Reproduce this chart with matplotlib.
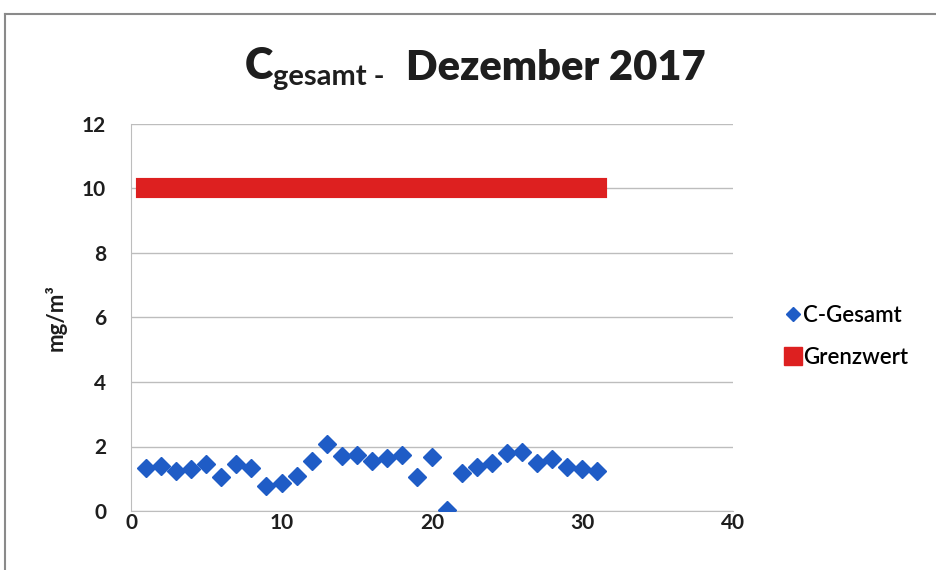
import matplotlib.pyplot as plt
from matplotlib.lines import Line2D

# -------------------------------
# Data
# -------------------------------
days = list(range(1, 32))
c_gesamt = [1.32, 1.40, 1.25, 1.29, 1.46, 1.06, 1.46, 1.32, 0.78, 0.88,
            1.08, 1.56, 2.08, 1.71, 1.74, 1.56, 1.63, 1.74, 1.04, 1.66,
            0.02, 1.17, 1.35, 1.48, 1.81, 1.84, 1.50, 1.60, 1.37, 1.29,
            1.25]
grenzwert = [10] * 31

x_ticks = [0, 10, 20, 30, 40]
y_ticks = [0, 2, 4, 6, 8, 10, 12]

blue = "#1F5CC6"
red = "#DD2020"
grid_grey = "#BDBDBD"
text_col = "#1E1E1E"

plt.rcParams["font.family"] = ["Lato", "DejaVu Sans"]

fig = plt.figure(figsize=(9.36, 5.70), dpi=100)
ax = fig.add_axes([0.140, 0.1035, 0.643, 0.679])

# threshold line (thick bar) and measured values
ax.plot(days, grenzwert, color=red, linewidth=14.5,
        solid_capstyle="projecting", label="Grenzwert", zorder=2)
ax.plot(days, c_gesamt, linestyle="none", marker="D", markersize=9,
        color=blue, markeredgecolor=blue, label="C-Gesamt", zorder=3)

ax.set_xlim(0, 40)
ax.set_ylim(0, 12)
ax.set_xticks(x_ticks)
ax.set_yticks(y_ticks)
ax.tick_params(length=0, labelsize=15)
ax.tick_params(axis="x", pad=1.5)
ax.tick_params(axis="y", pad=18)
for lab in ax.get_xticklabels() + ax.get_yticklabels():
    lab.set_fontweight("bold")
    lab.set_color(text_col)

ax.yaxis.grid(True, color=grid_grey, linewidth=1)
ax.set_axisbelow(True)
for side in ["top", "right"]:
    ax.spines[side].set_visible(False)
for side in ["left", "bottom"]:
    ax.spines[side].set_color(grid_grey)

ax.set_ylabel("mg/m³", fontsize=16, fontweight="bold", labelpad=11,
              color=text_col)

# legend with square for the threshold
handles = [
    Line2D([], [], linestyle="none", marker="D", markersize=7, color=blue),
    Line2D([], [], linestyle="none", marker="s", markersize=13, color=red),
]
fig.legend(handles, ["C-Gesamt", "Grenzwert"], loc="center left",
           bbox_to_anchor=(0.816, 0.41), frameon=False,
           prop={"size": 16, "weight": "semibold"},
           handletextpad=0.05, labelspacing=0.95, handlelength=0.8)

# title: C with subscript, then month
t1 = fig.text(0.262, 0.862, "C", fontsize=31, fontweight="heavy",
              color=text_col, va="baseline")
t2 = ax.annotate("gesamt -", xy=(1, 0), xycoords=t1, xytext=(0, -3),
                 textcoords="offset points", fontsize=21, fontweight="bold",
                 color=text_col, va="bottom")
ax.annotate("Dezember 2017", xy=(1, 0), xycoords=t2, xytext=(15, 2),
            textcoords="offset points", fontsize=30, fontweight="heavy",
            color=text_col, va="bottom")

# outer chart frame (top and left edges visible)
fig.add_artist(Line2D([0.005, 1.0], [0.975, 0.975], color="#8A8A8A",
                      linewidth=1.5, transform=fig.transFigure))
fig.add_artist(Line2D([0.005, 0.005], [0.0, 0.975], color="#8A8A8A",
                      linewidth=1.5, transform=fig.transFigure))

plt.savefig("out.png", dpi=100)
